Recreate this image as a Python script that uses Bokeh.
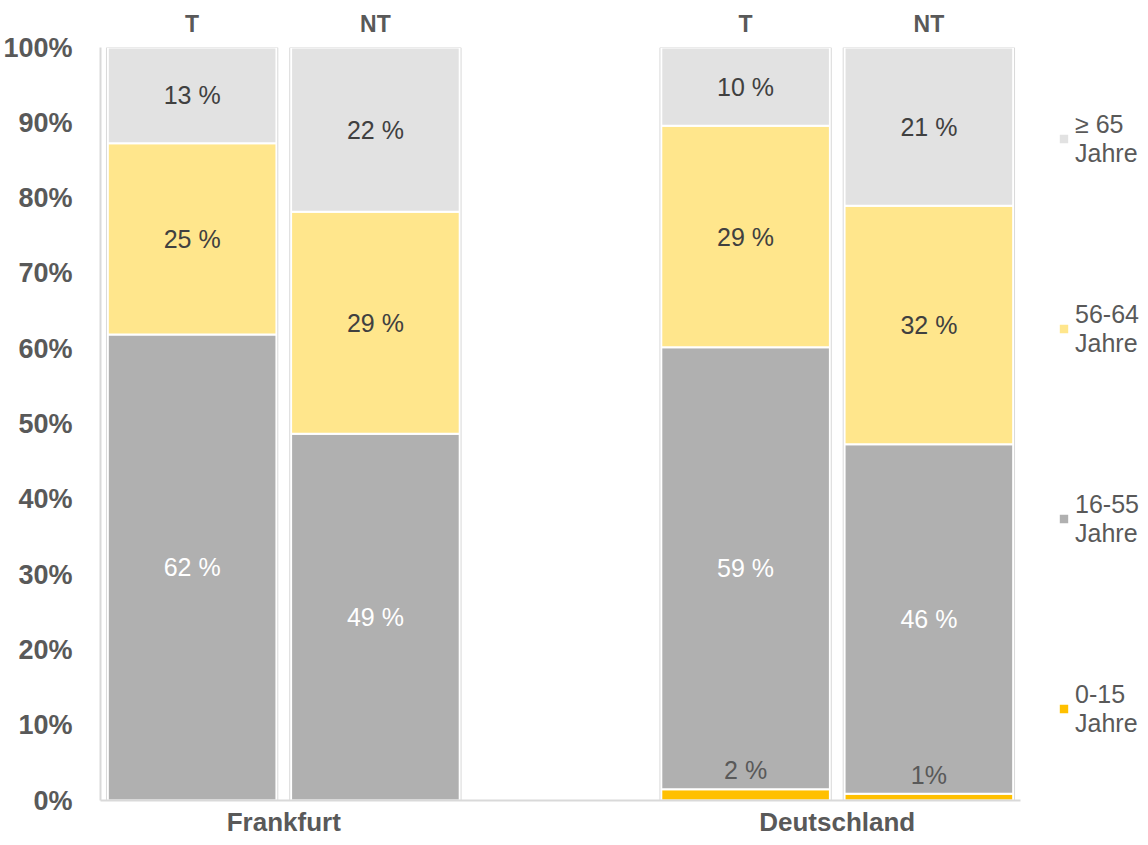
from bokeh.plotting import figure
from bokeh.models import (FactorRange, CategoricalAxis, FixedTicker, PrintfTickFormatter,
                          Legend, LegendItem, ColumnDataSource, LabelSet)
from bokeh.core.properties import value
from bokeh.embed import file_html
from bokeh.resources import INLINE

# ---- data ----
regions = ["Frankfurt", "Frankfurt", "Deutschland", "Deutschland"]
region_names = ["Frankfurt", "Deutschland"]
groups = ["T", "NT", "T", "NT"]
age_classes = ["0-15 Jahre", "16-55 Jahre", "56-64 Jahre", "≥ 65 Jahre"]
legend_labels = ["0-15\nJahre", "16-55\nJahre", "56-64\nJahre", "≥ 65\nJahre"]
share_0_15 = [0.0, 0.0, 1.5, 0.9]
share_16_55 = [61.9, 48.7, 58.7, 46.4]
share_56_64 = [25.4, 29.5, 29.4, 31.7]
share_65_plus = [12.7, 21.8, 10.4, 21.0]
label_0_15 = ["", "", "2 %", "1%"]
label_16_55 = ["62 %", "49 %", "59 %", "46 %"]
label_56_64 = ["25 %", "29 %", "29 %", "32 %"]
label_65_plus = ["13 %", "22 %", "10 %", "21 %"]
y_ticks = [0, 10, 20, 30, 40, 50, 60, 70, 80, 90, 100]

colors = ["#FFC000", "#B0B0B0", "#FFE68C", "#E2E2E2"]
FONT = "Liberation Sans"
TXT = "#595959"

x = list(zip(regions, groups))
keys = ["s0", "s1", "s2", "s3"]
shares = [share_0_15, share_16_55, share_56_64, share_65_plus]
labels = [label_0_15, label_16_55, label_56_64, label_65_plus]

data = {"x": x}
for k, s in zip(keys, shares):
    data[k] = s
source = ColumnDataSource(data)

x_range = FactorRange(factors=x, factor_padding=0.0, group_padding=1.02, range_padding=0)
p = figure(width=1132, height=829, x_range=x_range, y_range=(0, 100),
           frame_width=920, frame_height=753, title=" ",
           output_backend="svg", toolbar_location=None,
           min_border_left=93, min_border_right=119, min_border_top=39, min_border_bottom=37)
p.title.text_font_size = "4px"
p.title.standoff = 0
p.title.offset = 0
p.outline_line_color = None
p.xgrid.grid_line_color = None
p.ygrid.grid_line_color = None
p.background_fill_color = "white"

renderers = p.vbar_stack(keys, x="x", width=0.92, color=colors, source=source,
                         line_color="white", line_width=2)

# bar frames
p.vbar(x=x, top=[max(y_ticks)] * len(x), bottom=0, width=0.935,
       fill_color=None, line_color="#D9D9D9", line_width=1)

# data labels
cum = [0.0] * len(x)
for i, (s, lab) in enumerate(zip(shares, labels)):
    bottoms = cum[:]
    tops = [b + v for b, v in zip(bottoms, s)]
    cum = tops
    if i == 0:
        src = ColumnDataSource(dict(x=x, y=tops, t=lab))
        ls = LabelSet(x="x", y="y", text="t", source=src, text_align="center",
                      text_baseline="bottom", y_offset=5, text_font_size="25px",
                      text_font=value(FONT), text_color=TXT)
    else:
        ys = [(b + t) / 2 for b, t in zip(bottoms, tops)]
        src = ColumnDataSource(dict(x=x, y=ys, t=lab))
        ls = LabelSet(x="x", y="y", text="t", source=src, text_align="center",
                      text_baseline="middle", text_font_size="25px", text_font=value(FONT),
                      text_color="white" if i == 1 else "#404040")
    p.add_layout(ls)

# y axis
p.yaxis.ticker = FixedTicker(ticks=y_ticks)
p.yaxis.formatter = PrintfTickFormatter(format="%d%%")
p.yaxis.major_label_text_font_size = "27px"
p.yaxis.major_label_text_font_style = "bold"
p.yaxis.major_label_text_font = FONT
p.yaxis.major_label_text_color = TXT
p.yaxis.axis_line_color = "#D9D9D9"
p.yaxis.axis_line_width = 2
p.yaxis.major_tick_line_color = None
p.yaxis.minor_tick_line_color = None
p.yaxis.major_label_standoff = 22

# bottom axis: region names on a range aligned with the group centres
p.xaxis.visible = False
p.extra_x_ranges = {"regions": FactorRange(factors=region_names, factor_padding=0.51,
                                           range_padding=0)}
xa = CategoricalAxis(x_range_name="regions")
xa.major_label_text_font_size = "26px"
xa.major_label_text_font_style = "bold"
xa.major_label_text_font = FONT
xa.major_label_text_color = TXT
xa.major_label_standoff = 0
xa.axis_line_color = "#D9D9D9"
xa.axis_line_width = 2
xa.major_tick_line_color = None
xa.minor_tick_line_color = None
p.add_layout(xa, "below")

# top axis: T / NT
ta = CategoricalAxis()
ta.major_label_text_font_size = "23px"
ta.major_label_text_font_style = "bold"
ta.major_label_text_font = FONT
ta.major_label_text_color = TXT
ta.major_label_standoff = 5
ta.group_text_font_size = "1px"
ta.group_text_alpha = 0
ta.separator_line_color = None
ta.axis_line_color = None
ta.major_tick_line_color = None
ta.minor_tick_line_color = None
p.add_layout(ta, "above")

# legend
items = [LegendItem(label=legend_labels[i], renderers=[renderers[i]]) for i in [3, 2, 1, 0]]
legend = Legend(items=items, location="left", orientation="vertical")
legend.label_text_font_size = "25px"
legend.label_text_font = FONT
legend.label_text_color = TXT
legend.label_text_line_height = 1.2
legend.glyph_width = 13
legend.glyph_height = 13
legend.label_standoff = 5
legend.spacing = 132
legend.padding = 0
legend.margin = 37
legend.border_line_color = None
legend.background_fill_alpha = 0
p.add_layout(legend, "right")

open("out.html", "w").write(file_html(p, INLINE))
